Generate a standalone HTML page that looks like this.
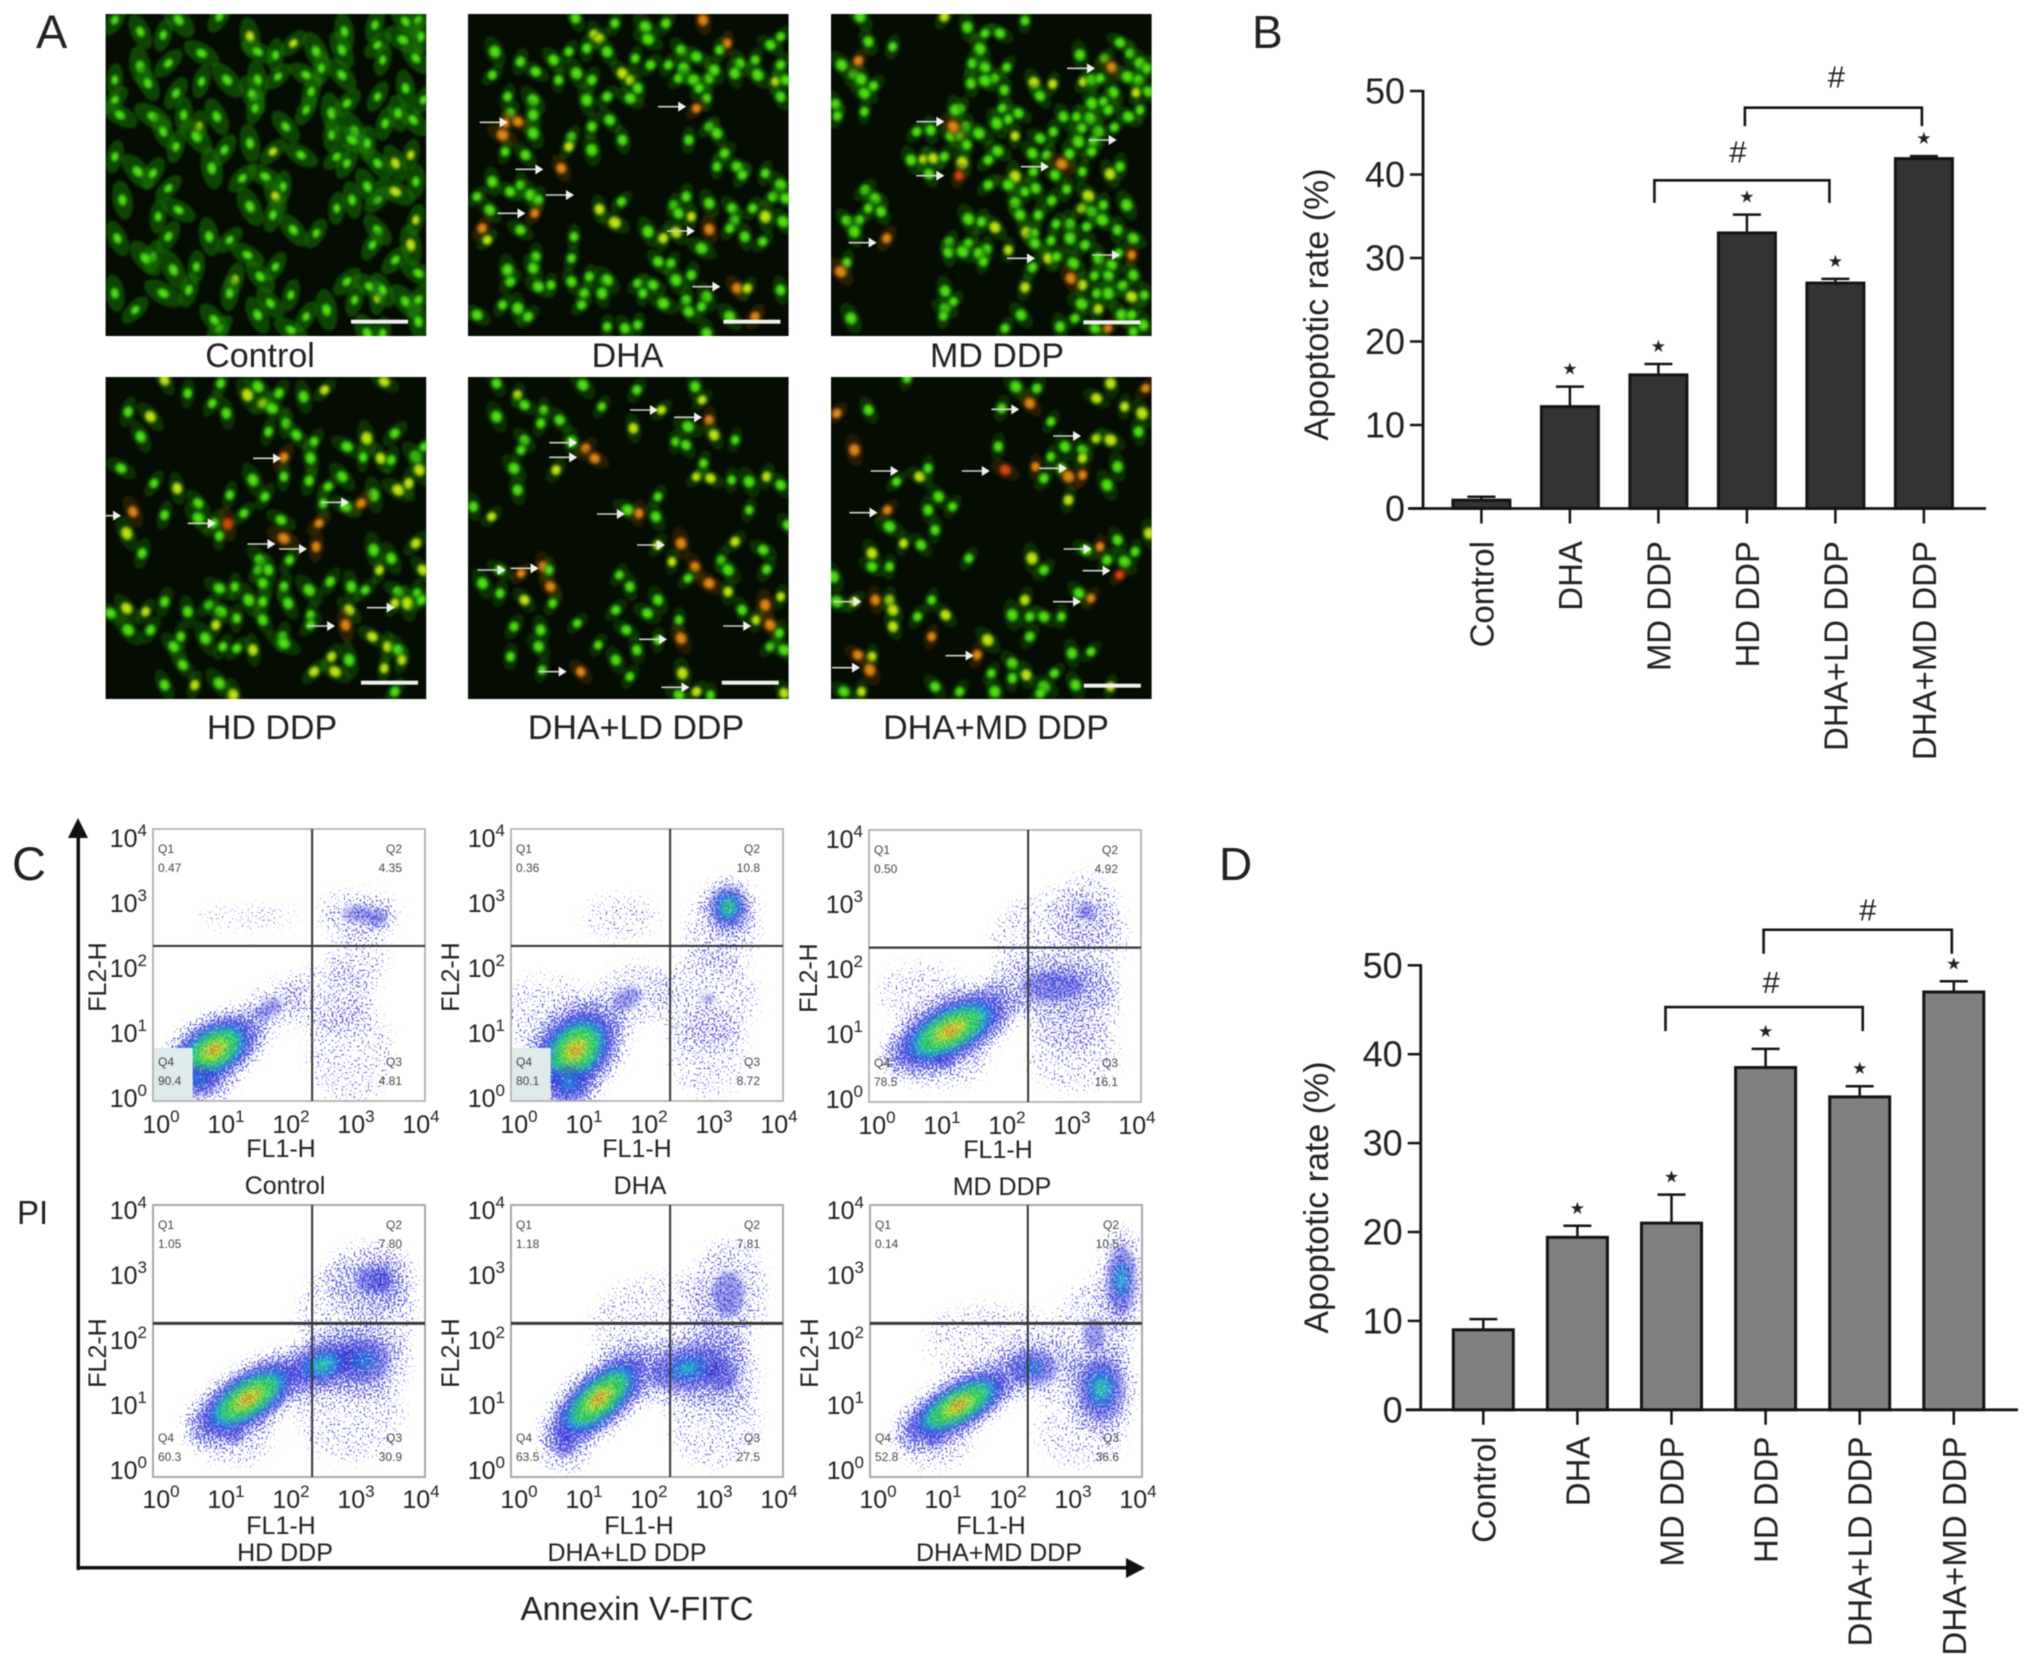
<!DOCTYPE html>
<html lang="en">
<head>
<meta charset="utf-8">
<title>Apoptosis figure</title>
<style>
html,body{margin:0;padding:0;background:#fff;width:2032px;height:1669px;overflow:hidden}
svg{display:block;filter:blur(.5px)}
text{font-family:"Liberation Sans",sans-serif;fill:#222}
</style>
</head>
<body>
<svg id="fig" xmlns="http://www.w3.org/2000/svg" width="2032" height="1669" viewBox="0 0 2032 1669">
<defs>
<radialGradient id="gG"><stop offset="0" stop-color="#74e60e"/><stop offset=".6" stop-color="#33cc0d"/><stop offset="1" stop-color="#137004" stop-opacity=".2"/></radialGradient>
<radialGradient id="gY"><stop offset="0" stop-color="#e8e612"/><stop offset=".6" stop-color="#9ad50c"/><stop offset="1" stop-color="#3c7a04" stop-opacity=".2"/></radialGradient>
<radialGradient id="gO"><stop offset="0" stop-color="#ef9a12"/><stop offset=".6" stop-color="#c5700c"/><stop offset="1" stop-color="#5a3004" stop-opacity=".2"/></radialGradient>
<radialGradient id="gR"><stop offset="0" stop-color="#ee4a10"/><stop offset=".6" stop-color="#c03a0c"/><stop offset="1" stop-color="#5a1c04" stop-opacity=".2"/></radialGradient>
<filter id="soft" x="-5%" y="-5%" width="110%" height="110%"><feGaussianBlur stdDeviation="1.2"/></filter>
<filter id="heatBlur" x="-20%" y="-20%" width="140%" height="140%" color-interpolation-filters="sRGB">
<feGaussianBlur in="SourceGraphic" stdDeviation="3.2" result="b"/>
<feTurbulence type="fractalNoise" baseFrequency="0.5" numOctaves="1" seed="9" result="t"/>
<feColorMatrix in="t" type="matrix" values="0 0 0 0 1  0 0 0 0 1  0 0 0 0 1  3 0 0 0 -1" result="n"/>
<feComposite in="b" in2="n" operator="arithmetic" k1=".7" k2=".55" k3="0" k4="0"/>
</filter>
<filter id="speck" x="-20%" y="-20%" width="140%" height="140%" color-interpolation-filters="sRGB">
<feGaussianBlur in="SourceAlpha" stdDeviation="7" result="b"/>
<feTurbulence type="fractalNoise" baseFrequency="0.5" numOctaves="1" seed="4" result="t"/>
<feColorMatrix in="t" type="matrix" values="0 0 0 0 0  0 0 0 0 0  0 0 0 0 0  3 0 0 0 -1.15" result="n"/>
<feComposite in="b" in2="n" operator="arithmetic" k1="0" k2="1" k3="1" k4="-1" result="m"/>
<feComponentTransfer in="m" result="a"><feFuncA type="linear" slope="3" intercept="0"/></feComponentTransfer>
<feFlood flood-color="#6464ea"/>
<feComposite in2="a" operator="in"/>
</filter>
</defs>
<text x="36" y="48" font-size="47">A</text>
<text x="1252" y="48" font-size="46">B</text>
<text x="12" y="880" font-size="47">C</text>
<text x="1219" y="880" font-size="46">D</text>
<text x="17" y="1224" font-size="33">PI</text>
<text x="637" y="1620" font-size="33" text-anchor="middle">Annexin V-FITC</text>
<g fill="#111" stroke="none">
<rect x="76.5" y="830" width="3.5" height="740"/>
<polygon points="78,818 68,838 88,838"/>
<rect x="76.5" y="1566" width="1055" height="3.5"/>
<polygon points="1145,1568 1126,1558 1126,1578"/>
</g>
<g id="micro"></g>
<g id="flow"></g>
<g id="chartB"></g>
<g id="chartD"></g>
</svg>
<script>
/* ---------- bar chart data ---------- */
const categories = ['Control','DHA','MD DDP','HD DDP','DHA+LD DDP','DHA+MD DDP'];
const yTickValues = [0,10,20,30,40,50];
const bValues = [1.0,12.2,16.0,33.0,27.0,41.9];
const bErrorTops = [1.4,14.6,17.3,35.2,27.5,42.2];
const bStarred = [false,true,true,true,true,true];
const bBrackets = [[2,4,39.3,36.6],[3,5,48.0,45.8]];
const dValues = [9.0,19.4,21.0,38.5,35.2,47.0];
const dErrorTops = [10.2,20.7,24.2,40.6,36.4,48.2];
const dStarred = [false,true,true,true,true,true];
const dBrackets = [[2,4,45.3,42.6],[3,5,54.0,51.3]];

/* ---------- flow cytometry data (log decades 0-4) ---------- */
const flowNames = ['Control','DHA','MD DDP','HD DDP','DHA+LD DDP','DHA+MD DDP'];
const flowQ1 = ['0.47','0.36','0.50','1.05','1.18','0.14'];
const flowQ2 = ['4.35','10.8','4.92','7.80','7.81','10.5'];
const flowQ3 = ['4.81','8.72','16.1','30.9','27.5','36.6'];
const flowQ4 = ['90.4','80.1','78.5','60.3','63.5','52.8'];
const flowGateX = [2.34,2.34,2.34,2.34,2.34,2.32];
const flowGateY = [2.28,2.28,2.27,2.26,2.26,2.26];
const flowDecadeTicks = [0,1,2,3,4];
/* cluster: x decade, y decade, x radius, y radius, rotation, density 0-1 */
const clustersControl = [[0.9,0.75,0.75,0.45,-30,1],[0.65,0.3,0.5,0.35,0,0.42],[1.7,1.35,0.55,0.3,-35,0.25],[2.6,1.5,0.6,0.45,0,0.16],[2.9,0.7,0.55,0.7,0,0.1],[3.0,2.75,0.55,0.3,0,0.24],[3.3,2.7,0.25,0.22,0,0.3],[1.4,2.7,0.7,0.15,0,0.05],[3.0,2.1,0.4,0.4,0,0.1]];
const clustersDHA = [[0.95,0.75,0.75,0.55,-45,1],[0.85,0.25,0.45,0.4,0,0.45],[1.7,1.5,0.6,0.4,-30,0.24],[2.9,1.5,0.65,0.65,0,0.17],[2.9,0.7,0.5,0.6,0,0.12],[3.2,2.85,0.35,0.4,0,0.62],[3.1,2.5,0.5,0.5,0,0.16],[0.5,1.3,0.6,0.5,0,0.1],[1.6,2.7,0.5,0.3,0,0.05]];
const clustersMD = [[1.2,1.05,1.0,0.45,-28,1],[1.1,0.6,0.6,0.35,0,0.2],[2.7,1.7,0.9,0.4,0,0.32],[3.0,1.4,0.6,0.6,0,0.16],[3.2,2.8,0.45,0.5,0,0.2],[2.8,2.4,0.9,0.6,0,0.1],[3.0,0.7,0.6,0.5,0,0.1],[0.8,1.6,0.6,0.4,0,0.08]];
const clustersHD = [[1.4,1.15,0.95,0.42,-33,1],[2.5,1.65,0.7,0.4,-20,0.55],[3.1,1.7,0.6,0.5,0,0.42],[1.2,0.6,0.5,0.4,0,0.2],[3.2,2.9,0.6,0.5,0,0.24],[3.0,2.4,0.8,0.7,0,0.15],[2.9,0.9,0.7,0.6,0,0.12],[3.4,2.9,0.25,0.4,0,0.3]];
const clustersLD = [[1.3,1.15,0.95,0.42,-42,1],[0.8,0.5,0.35,0.45,0,0.26],[2.6,1.6,0.8,0.45,-15,0.48],[3.1,1.5,0.5,0.5,0,0.28],[3.2,2.7,0.5,0.7,0,0.28],[2.3,2.2,1.0,0.7,0,0.08],[3.0,0.8,0.6,0.6,0,0.12]];
const clustersDHAMD = [[1.3,1.05,0.95,0.38,-30,1],[0.95,0.55,0.5,0.4,0,0.2],[2.4,1.6,0.55,0.4,0,0.42],[3.4,1.3,0.45,0.6,0,0.55],[3.7,2.9,0.3,0.7,0,0.5],[3.3,2.1,0.5,0.7,0,0.22],[3.1,0.7,0.6,0.5,0,0.08],[1.8,2.0,0.9,0.5,0,0.06]];
const flowClusters = [clustersControl,clustersDHA,clustersMD,clustersHD,clustersLD,clustersDHAMD];

const NS = 'http://www.w3.org/2000/svg';
function mk(tag, attrs, parent){
  const el = document.createElementNS(NS, tag);
  for (const k in attrs) el.setAttribute(k, attrs[k]);
  if (parent) parent.appendChild(el);
  return el;
}

/* ---------- bar chart ---------- */
function drawBarChart(root, cfg){
  const y = v => cfg.y0 - v * (cfg.y0 - cfg.y50) / 50;
  const x = i => cfg.x0 + i * cfg.step;
  const dark = '#141414';

  cfg.values.forEach((v, i) => {
    const bar = mk('rect', {x:x(i)-cfg.barW/2, y:y(v), width:cfg.barW, height:cfg.y0-y(v), fill:cfg.fill, stroke:dark, 'stroke-width':3}, root);
    
    
    const stem = mk('line', {x1:x(i), x2:x(i), y1:y(v), y2:y(cfg.errs[i]), stroke:dark, 'stroke-width':2.5}, root);
    
    
    const cap = mk('line', {x1:x(i)-14, x2:x(i)+14, y1:y(cfg.errs[i]), y2:y(cfg.errs[i]), stroke:dark, 'stroke-width':2.5}, root);
    
    
    if (cfg.starred[i]) {
      const st = mk('text', {x:x(i), y:y(cfg.errs[i])-12, 'font-size':17, 'text-anchor':'middle', style:'font-family:"DejaVu Sans",sans-serif'}, root);
      st.textContent = '★';
      
      
    }
    const tick = mk('line', {x1:x(i), x2:x(i), y1:cfg.y0, y2:cfg.y0+15, stroke:dark, 'stroke-width':2.5}, root);
    
    
    const lx = x(i) + 12, ly = cfg.labelTop;
    const lab = mk('text', {x:lx, y:ly, 'font-size':33, 'text-anchor':'end', transform:'rotate(-90 '+lx+' '+ly+')'}, root);
    lab.textContent = categories[i];
    
    
  });

  const yAxis = mk('line', {x1:cfg.axisX, x2:cfg.axisX, y1:y(50)-1, y2:cfg.y0+1, stroke:dark, 'stroke-width':2.8}, root);
  
  
  const xAxis = mk('line', {x1:cfg.axisX-15, x2:cfg.axisEnd, y1:cfg.y0, y2:cfg.y0, stroke:dark, 'stroke-width':2.8}, root);
  
  

  yTickValues.forEach(t => {
    const tk = mk('line', {x1:cfg.axisX-13, x2:cfg.axisX, y1:y(t), y2:y(t), stroke:dark, 'stroke-width':2.5}, root);
    
    
    const tl = mk('text', {x:cfg.axisX-18, y:y(t)+12.5, 'font-size':36, 'text-anchor':'end'}, root);
    tl.textContent = t;
    
    
  });

  const tx = cfg.titleX, ty = cfg.titleY;
  const title = mk('text', {x:tx, y:ty, 'font-size':34, 'text-anchor':'middle', transform:'rotate(-90 '+tx+' '+ty+')'}, root);
  title.textContent = 'Apoptotic rate (%)';
  
  

  cfg.brackets.forEach((b, k) => {
    const nudge = cfg.bracketNudge[k];
    const xa = x(b[0])-2+nudge[0], xb = x(b[1])-2+nudge[1], top = y(b[2]), leg = y(b[3]);
    const br = mk('polyline', {points:xa+','+leg+' '+xa+','+top+' '+xb+','+top+' '+xb+','+leg, fill:'none', stroke:dark, 'stroke-width':2.6}, root);
    
    
    const h = mk('text', {x:(xa+xb)/2+2+nudge[2], y:top-15+nudge[3], 'font-size':31, 'text-anchor':'middle'}, root);
    h.textContent = '#';
    
    
  });
}
drawBarChart(document.getElementById('chartB'), {values:bValues, errs:bErrorTops, starred:bStarred, brackets:bBrackets, fill:'#333333', x0:1481.4, step:88.5, barW:57, y0:508.5, y50:91, axisX:1423, axisEnd:1986, labelTop:541, titleX:1328, titleY:304.5, bracketNudge:[[-2,-4,-6,-3],[0,0,1,-5]]});
drawBarChart(document.getElementById('chartD'), {values:dValues, errs:dErrorTops, starred:dStarred, brackets:dBrackets, fill:'#808080', x0:1483.3, step:94.1, barW:60, y0:1409.8, y50:965.3, axisX:1420.7, axisEnd:2018, labelTop:1436.5, titleX:1328, titleY:1197.5, bracketNudge:[[-4,5,5,1],[0,0,8,6]]});

/* ---------- flow panels ---------- */
const frames = [[153,829,312,946],[511,829,670,946],[869,830,1028,947],[153,1205,312,1323],[511,1205,670,1323],[870,1205,1028,1323]];
const captionOffsets = [132,129,133,132,116,129];
const fl1Offsets = [128,126,129,128,128,121];
const heatLevels = [[0.15,'#2a2ad0',.5],[0.3,'#1668d8',.75],[0.4,'#14b8c0',.85],[0.5,'#28cc40',.9],[0.72,'#b8d818',.9],[0.88,'#ec8a10',.9],[0.96,'#e03810',.9]];
const flowRoot = document.getElementById('flow');
const flowSpan = 272, decade = flowSpan / 4;
flowNames.forEach((name, p) => {
  const [L,T] = frames[p], R = L + flowSpan, B = T + flowSpan;
  const px = d => L + d * decade, py = d => B - d * decade;
  const row2 = p > 2;
  const g = mk('g', {}, flowRoot);
  
  
  const clip = mk('clipPath', {id:'fc'+p}, g);
  mk('rect', {x:L,y:T,width:flowSpan,height:flowSpan}, clip);
  const inner = mk('g', {'clip-path':'url(#fc'+p+')'}, g);
  
  
  const sparse = mk('g', {filter:'url(#speck)'}, inner);
  const heat = mk('g', {filter:'url(#heatBlur)'}, inner);
  flowClusters[p].forEach(c => {
    const [cx,cy,rx,ry,rot,d] = c;
    const X = px(cx), Y = py(cy);
    const e = mk('ellipse', {cx:X, cy:Y, rx:rx*decade*1.15, ry:ry*decade*1.15, transform:'rotate('+rot+' '+X+' '+Y+')', fill:'#000', 'fill-opacity':Math.min(0.9,0.34+0.55*d)}, sparse);
    
    
    heatLevels.forEach(h => {
      if (h[0] >= d) return;
      const s = 1 - h[0]/d;
      const e2 = mk('ellipse', {cx:X, cy:Y, rx:rx*decade*s, ry:ry*decade*s, transform:'rotate('+rot+' '+X+' '+Y+')', fill:h[1], 'fill-opacity':h[2]}, heat);
      
      
    });
  });
  if (p < 2) {
    const bx = mk('rect', {x:L+1,y:py(0.78),width:0.57*decade,height:0.78*decade-1,fill:'#dfeaea'}, g);
    
    
  }
  const fr = mk('rect', {x:L,y:T,width:flowSpan,height:flowSpan,fill:'none',stroke:'#a8a8a8','stroke-width':row2?2:1.6}, g);
  
  
  const vg = mk('line', {x1:px(flowGateX[p]),x2:px(flowGateX[p]),y1:T,y2:B,stroke:'#333','stroke-width':2}, g);
  
  
  const hg = mk('line', {x1:L,x2:R,y1:py(flowGateY[p]),y2:py(flowGateY[p]),stroke:'#383838','stroke-width':row2?3:2.2}, g);
  
  

  const q = [['Q1',flowQ1[p],L+5,T+24,'start'],['Q2',flowQ2[p],R-23,T+24,'end'],['Q4',flowQ4[p],L+5,B-35,'start'],['Q3',flowQ3[p],R-23,B-35,'end']];
  q.forEach(r => {
    const a = mk('text', {x:r[2],y:r[3],'font-size':12,'text-anchor':r[4],style:'fill:#444'}, g);
    a.textContent = r[0];
    
    
    const b = mk('text', {x:r[2],y:r[3]+19,'font-size':12,'text-anchor':r[4],style:'fill:#444'}, g);
    b.textContent = r[1];
    
    
  });

  flowDecadeTicks.forEach(d => {
    const xl = mk('text', {x:L+8+d*65,y:B+(row2?31:32),'font-size':25,'text-anchor':'middle'}, g);
    
    
    xl.appendChild(document.createTextNode('10'));
    const xs = mk('tspan', {dy:-11,'font-size':17}, xl);
    xs.textContent = d;
    const yl = mk('text', {x:L-6,y:T+13+(4-d)*65+9-(row2?8:4),'font-size':25,'text-anchor':'end'}, g);
    
    
    yl.appendChild(document.createTextNode('10'));
    const ys = mk('tspan', {dy:-11,'font-size':17}, yl);
    ys.textContent = d;
  });
  const fx = mk('text', {x:L+fl1Offsets[p],y:B+(row2?57:56),'font-size':25,'text-anchor':'middle'}, g);
  fx.textContent = 'FL1-H';
  
  
  const tx = L-(p%3===0?47:52), ty = T+148;
  const fy = mk('text', {x:tx,y:ty,'font-size':25,'text-anchor':'middle',transform:'rotate(-90 '+tx+' '+ty+')'}, g);
  fy.textContent = 'FL2-H';
  
  
  const cap = mk('text', {x:L+captionOffsets[p],y:B+(row2?84:93),'font-size':25,'text-anchor':'middle'}, g);
  cap.textContent = name;
  
  
});

/* ---------- micrographs: cell positions ---------- */
const cellsControl = "275 95,320 105,350 60,430 50,490 110 y,575 130 y,505 155,540 165,620 155,735 75,795 65,820 60,675 95,740 135,790 120,825 110,670 150,750 180,815 175,225 60,275 200,330 190,395 160,225 240,290 250,395 245,445 240,345 280,505 240,545 230,600 225,630 205,495 285,610 275,670 225,740 290,795 265,225 300,300 350,360 345,425 350,500 325,560 380,600 330,650 340,680 310,235 345,390 380 y,320 395,345 440,385 410,440 450,490 430,535 455 y,590 465,650 405,695 395,755 370,810 360,830 300,780 340,660 470,690 420,720 430,775 490 y,805 465 y,740 490,680 490,415 505,475 535,520 530,555 560,540 590 y,225 470,270 515,300 520,240 600,330 565,350 630,310 650,490 620,535 645,575 690,620 700,690 600,740 600,775 575 y,815 545,720 560,815 660 y,740 690,730 735,805 735 y,775 780,820 820,660 625,230 715,300 770,285 775,330 710,410 710,450 720,485 765,385 800,340 810,460 840 y,510 830,540 800,225 880,265 930,320 880,450 880,505 945,570 885,530 910,600 950,640 930,680 845,725 860,740 895 y,750 870,695 900,795 905,820 900,820 965,430 985,570 990,750 1000,720 1000,370 870,420 960";
const cellsDHA = "1128 55,1205 70,1265 80,1305 70,1378 60 o,1530 110,1510 135,1425 130 o,970 155,1020 185,1085 180,1115 155,1165 105 y,1175 115 y,1270 118,1150 145,1190 155,1245 175,1335 150,1310 195,1340 205,1275 195,1365 170,1410 150,1450 190,1480 180,1485 225,1530 195,1440 220,965 225,1050 215,1095 240,1130 220,1160 240,1220 220 y,1235 240 y,1250 265,1330 235,1360 240,1390 235,1400 210,1520 245 y,1540 240,1370 265,1150 300,1190 290,1235 295,1385 295,1530 290,995 290,1045 300,1000 340,1045 345,1365 325 o,1015 365 o,990 370 o,1045 400,1160 380,1195 360,1120 410,1220 420,1390 380,985 405 o,1350 420,1405 400,990 455,1030 465,1115 440 y,1160 450,1420 460,1445 500,1405 500,1100 505 o,1500 520,1530 555,1455 525,965 545,935 590,1000 575,1020 555,1040 585,1055 600,960 630,1048 640 o,1175 628 y,1218 605,1205 668 y,1345 590,1390 610,1320 615,1435 625,1475 625,1500 650 y,1515 590,1540 595,1355 650 y,1330 640,1440 660,1535 665,945 685 o,1390 688 o,955 720 y,1020 690,1125 710,1270 695,1300 715 y,1325 697 y,1430 685,1460 710,1495 725,1375 745,1050 770,1045 805,1120 775,1290 785,1315 790,995 810,1000 845,1055 860,1080 855,1120 845,1155 830,1190 840,1145 880,1180 880,1250 850,1280 855,1260 880,1325 840,1355 825,1445 865 o,1465 865 y,1530 870,1140 915,1300 910,1345 900,1385 890,1375 920,1350 935,985 915,1015 925,1035 950,935 945,1190 980,1225 985,1250 975,1430 950,1480 950 o,1385 1000";
const cellsMD = "130 95,203 110,105 20,358 20 y,427 52,480 70,525 70,600 32,465 117,442 160,480 172,545 172,438 220,508 205,480 212,538 240,627 218 y,683 222 y,645 258,85 193,108 208,145 228,118 250,118 305,32 283,37 318,50 165,405 297,390 300,532 295,580 310,550 328,515 340,422 350,378 378,405 378,317 360,275 365,462 370,425 405,258 450,295 448 y,325 445 y,358 440,412 458 y,490 450,518 423,570 378 y,312 492,402 497 r,385 350 o,100 152 o,765 135,838 145,885 98,915 130,945 160,965 175,860 172 o,775 215 y,800 210,825 205,908 200,940 210,865 247,933 248 y,970 245,835 275,800 280,850 300,910 320,945 300,715 320,755 320,795 325,770 355,820 365,868 352,645 385,685 365,760 395,805 395,622 430,665 435,733 432,800 425,710 462 o,885 470,855 492 y,772 485,690 495,625 485,570 500 y,490 525,550 525,600 545,632 535,725 538,790 558 y,680 572,570 578,770 595 y,800 605,835 585,905 585,640 615,585 615,693 642,735 642,785 650,832 630,878 660,605 668 y,628 670,630 700,678 692,735 685,780 705,925 685,550 720 y,670 745 y,695 740,745 760,622 772,820 745,880 730,860 765,920 735 o,430 627,470 635,510 652 y,372 695,370 727,430 700,413 725,485 718,462 730,475 755,65 632,103 630,88 665,120 540,150 565,130 595,168 605,65 758,47 785 o,185 685 o,360 843,385 875,360 895,355 918,78 925,600 832 y,588 915,540 955,705 950,750 925,770 882,772 825 y,737 805 o,808 797,850 797,815 850,850 850,893 827,920 860 y,958 855,925 795,820 897 y,890 915,920 915,955 945,848 955 o,810 955,925 965";
const cellsHD = "92 30 y,172 40,225 50,255 70,290 80,320 60 y,405 35 y,125 70,210 75 y,40 125,72 140 y,160 100,180 130,232 100 y,245 115,265 160,58 200,240 185,280 195,305 215,380 205 y,420 190,352 230,375 262,400 265 y,415 270,450 260,262 262 o,300 265,462 230,30 295,262 320,218 330,298 332,345 320,77 340,110 355 y,325 350,425 360 y,440 340 y,455 300 y,185 375,140 400,235 380,390 375,372 400 o,350 410,318 400,47 425 o,92 435,140 445,162 460,182 462 r,205 430,258 450,170 498,38 490 y,60 550,228 570,225 600,240 600,312 460 o,262 505 o,308 530 o,415 565,398 600 y,460 600 y,270 570,390 540,450 520 y,170 655,192 650,232 640,262 650,298 660,328 635,358 650,378 660,425 665,452 670,212 690,92 695,38 715 y,65 725 y,125 725,155 705,172 725,232 695,268 700,300 735,355 720 y,420 700 y,438 700 y,458 690,15 730,195 745,232 750,165 765 y,40 780,72 780,350 765 o,300 765,388 800 y,115 800,150 805,260 800,105 830,175 830,218 840 y,195 835,262 820,410 830 y,425 840,430 870 y,118 885,330 860 y,355 870,305 905 y,335 905 y,405 895 y,92 945,135 945 y,170 940,420 965,190 975 y";
const cellsLD = "565 40,595 75 y,688 45,765 60,848 50,858 90 y,605 105,632 120,565 140,628 160,655 150,715 110,760 175 y,800 120 y,838 170,868 150 o,875 195 y,905 210,605 210,600 240,672 215,692 235 o,705 265 o,820 215,835 225,860 280,590 295,650 300 y,595 360,850 320 y,870 325 y,900 330,925 335,950 320 y,970 345,795 380,532 410,558 440 y,752 420,768 430 o,792 440,925 420,980 465,795 525 y,828 520 o,905 515 y,945 540,815 575 y,848 590 o,885 570,895 600,950 598,632 590 o,600 610 o,570 600,640 600,545 640,570 670,642 650 o,740 615,755 650,838 625,868 640 o,895 665 y,795 690,970 680 y,605 690 y,645 700,948 705 o,735 720,780 730,825 750,915 720,935 750 y,955 765 o,590 770,628 780,680 760,750 780,795 810,828 805 o,968 790,625 830,710 825,765 840,955 830,975 840,585 860,735 870,630 900,685 905 o,755 920,830 910 y,850 965 y,825 975,870 975,975 970 y";
const cellsDHAMD = "1095 120,1150 25,1305 50,1335 55,1440 40 y,1490 55 o,1420 85 y,1460 110 y,1485 130 y,1285 115,1325 100 o,1355 155,1480 185,1420 205 y,1440 210 y,1280 230,1375 230,1355 260,1400 240,1400 265 y,1075 240 o,1050 130 o,1290 300 r,1333 290 o,1370 295,1400 315 o,1380 320 o,1345 325,1450 290,1135 335,1168 320 y,1180 295,1435 345,1380 390 y,1195 380,1215 410,1180 420,1122 420 o,1125 470,1190 480,1100 550 y,1145 520 y,1170 525,1238 565,1328 565 y,1345 600,1405 540,1425 530 o,1450 510,1475 545,1460 575,1435 570,1495 490 y,1453 615 r,1100 590,1125 590,1045 620,1318 690 y,1395 670,1412 685 o,1105 690 o,1075 695 y,1050 695,1125 690 y,1130 720 y,1185 690,1205 735 y,1165 740,1300 735,1325 740,1345 740,1370 740,1130 770 y,1185 800 o,1265 810 y,1325 800,1385 850,1412 845,1080 855 o,1100 860 y,1097 900 o,1250 855 o,1300 880,1270 910,1320 915 y,1360 910,1345 950,1300 925,1390 945,1440 950 y,1190 950,1225 965,1275 965,1340 970,1060 965,1085 965 y";
const arrowsControl = [];
const arrowsDHA = [[995,367],[1065,508],[1125,585],[1030,640],[1345,320],[1362,693],[1412,860]];
const arrowsMD = [[358,335],[358,497],[155,698],[630,745],[672,470],[810,175],[875,390],[885,735]];
const arrowsHD = [[258,265],[355,397],[30,437],[165,460],[250,522],[295,537],[420,713],[335,768]];
const arrowsLD = [[795,120],[858,142],[680,218],[680,262],[748,432],[805,525],[578,600],[625,595],[928,768],[808,808],[665,905],[840,952]];
const arrowsDHAMD = [[1310,118],[1398,198],[1138,303],[1268,303],[1378,295],[1108,428],[1413,537],[1440,602],[1085,695],[1398,695],[1245,857],[1083,893]];

const microPanels = [
 {name:'Control',   cells:cellsControl, arrows:arrowsControl, box:[105.6,14],  ox:0,   oy:0,   sx:1.96, sy:3, nuc:5.2, stretch:1.35, bodyW:9.5, bodyL:19, halo:.5,  bar:[688,965],  capX:260,    capY:367},
 {name:'DHA',       cells:cellsDHA,     arrows:arrowsDHA,     box:[468,14],    ox:0,   oy:0,   sx:1.96, sy:3, nuc:6.4, stretch:1.12, bodyW:8,   bodyL:15, halo:.34, bar:[1418,965], capX:627.5,  capY:367},
 {name:'MD DDP',    cells:cellsMD,      arrows:arrowsMD,      box:[831,14],    ox:825, oy:10,  sx:3,    sy:3, nuc:6.4, stretch:1.12, bodyW:8,   bodyL:15, halo:.34, bar:[775,937],  capX:997,    capY:367},
 {name:'HD DDP',    cells:cellsHD,      arrows:arrowsHD,      box:[105.6,377], ox:100, oy:370, sx:1.425,sy:3, nuc:6.2, stretch:1.2,  bodyW:8,   bodyL:17, halo:.34, bar:[372,938],  capX:272,    capY:739},
 {name:'DHA+LD DDP',cells:cellsLD,      arrows:arrowsLD,      box:[468,377],   ox:100, oy:370, sx:1.425,sy:3, nuc:6.2, stretch:1.12, bodyW:8,   bodyL:15, halo:.3,  bar:[886,938],  capX:636,    capY:739},
 {name:'DHA+MD DDP',cells:cellsDHAMD,   arrows:arrowsDHAMD,   box:[831,377],   ox:100, oy:370, sx:1.425,sy:3, nuc:6.4, stretch:1.12, bodyW:8,   bodyL:15, halo:.28, bar:[1402,947], capX:996,    capY:739}
];
const microW = 320.6, microH = 322;
const tilt = [-25,15,-40,30,-10,45,-60,5];
const sizeVar = [1,.9,1.12,.95,1.05,.88];
const fillFor = {g:'url(#gG)', y:'url(#gY)', o:'url(#gO)', r:'url(#gR)'};
const microRoot = document.getElementById('micro');
microPanels.forEach((m, p) => {
  const g = mk('g', {}, microRoot);
  
  
  const clip = mk('clipPath', {id:'mc'+p}, g);
  mk('rect', {x:m.box[0],y:m.box[1],width:microW,height:microH}, clip);
  const bg = mk('rect', {x:m.box[0],y:m.box[1],width:microW,height:microH,fill:'#050c02'}, g);
  
  
  const inner = mk('g', {'clip-path':'url(#mc'+p+')'}, g);
  const blurred = mk('g', {filter:'url(#soft)'}, inner);
  m.cells.split(',').forEach((s, i) => {
    const t = s.trim().split(' ');
    const X = m.ox + (+t[0]) / m.sx, Y = m.oy + (+t[1]) / m.sy;
    const kind = t[2] || 'g';
    const rot = tilt[i % tilt.length], sz = sizeVar[i % sizeVar.length];
    const halo = mk('ellipse', {cx:X,cy:Y,rx:m.bodyW*sz,ry:m.bodyL*sz,transform:'rotate('+rot+' '+X+' '+Y+')',fill:(kind==='o'||kind==='r')?'#6a4008':'#1c7c08','fill-opacity':m.halo}, blurred);
    
    
    const nuc = mk('ellipse', {cx:X,cy:Y,rx:m.nuc*sz,ry:m.nuc*sz*m.stretch,transform:'rotate('+rot+' '+X+' '+Y+')',fill:fillFor[kind]}, blurred);
    
    
  });
  m.arrows.forEach(a => {
    const X = m.ox + a[0]/m.sx, Y = m.oy + a[1]/m.sy;
    const ar = mk('g', {}, inner);
    
    
    mk('line', {x1:X-28,x2:X-6,y1:Y,y2:Y,stroke:'#cfcfcf','stroke-width':1.6}, ar);
    mk('polygon', {points:X+','+Y+' '+(X-8)+','+(Y-5)+' '+(X-8)+','+(Y+5),fill:'#f0f0f0'}, ar);
  });
  const sb = mk('rect', {x:m.ox+m.bar[0]/m.sx,y:m.oy+m.bar[1]/m.sy-2,width:57,height:4,fill:'#f0f0f0'}, inner);
  
  
  const cap = mk('text', {x:m.capX,y:m.capY,'font-size':34,'text-anchor':'middle'}, g);
  cap.textContent = m.name;
  
  
});
</script>
</body>
</html>
